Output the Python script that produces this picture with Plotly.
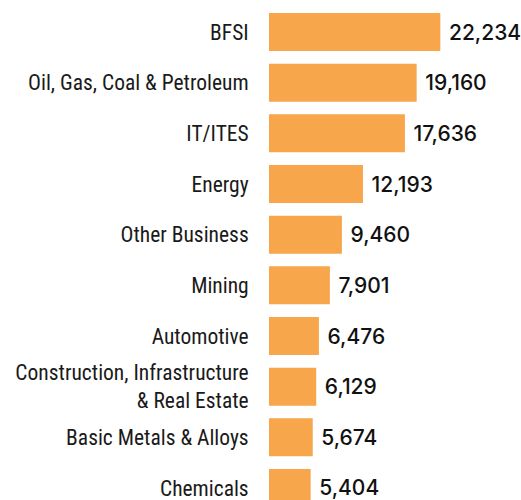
import plotly.graph_objects as go

sectors = [
    "BFSI",
    "Oil, Gas, Coal & Petroleum",
    "IT/ITES",
    "Energy",
    "Other Business",
    "Mining",
    "Automotive",
    "Construction, Infrastructure<br>& Real Estate",
    "Basic Metals & Alloys",
    "Chemicals",
]
values = [22234, 19160, 17636, 12193, 9460, 7901, 6476, 6129, 5674, 5404]

fig = go.Figure(
    go.Bar(
        x=values,
        y=sectors,
        orientation="h",
        marker=dict(color="#F8A64B", line=dict(width=0)),
        texttemplate=" %{x:,d}",
        textposition="outside",
        textfont=dict(family="Inter", size=21, color="#111111", weight=500),
        cliponaxis=False,
        width=0.75,
    )
)

fig.update_layout(
    width=521,
    height=500,
    margin=dict(l=269, r=0, t=0, b=0),
    paper_bgcolor="white",
    plot_bgcolor="white",
    showlegend=False,
    xaxis=dict(range=[0, 32700], visible=False, fixedrange=True),
    yaxis=dict(
        type="category",
        range=[9.237, -0.632],
        showgrid=False,
        zeroline=False,
        showline=False,
        ticks="outside",
        ticklen=15,
        tickcolor="rgba(0,0,0,0)",
        tickfont=dict(family="Roboto Condensed, Roboto", size=21.5, color="#1a1a1a"),
        automargin=False,
    ),
)

# drop the default page margin so the figure sits at the top-left corner
fig.write_html(
    "out.html",
    config={"displayModeBar": False},
    post_script="document.body.style.margin='0';document.body.style.overflow='hidden';",
)
